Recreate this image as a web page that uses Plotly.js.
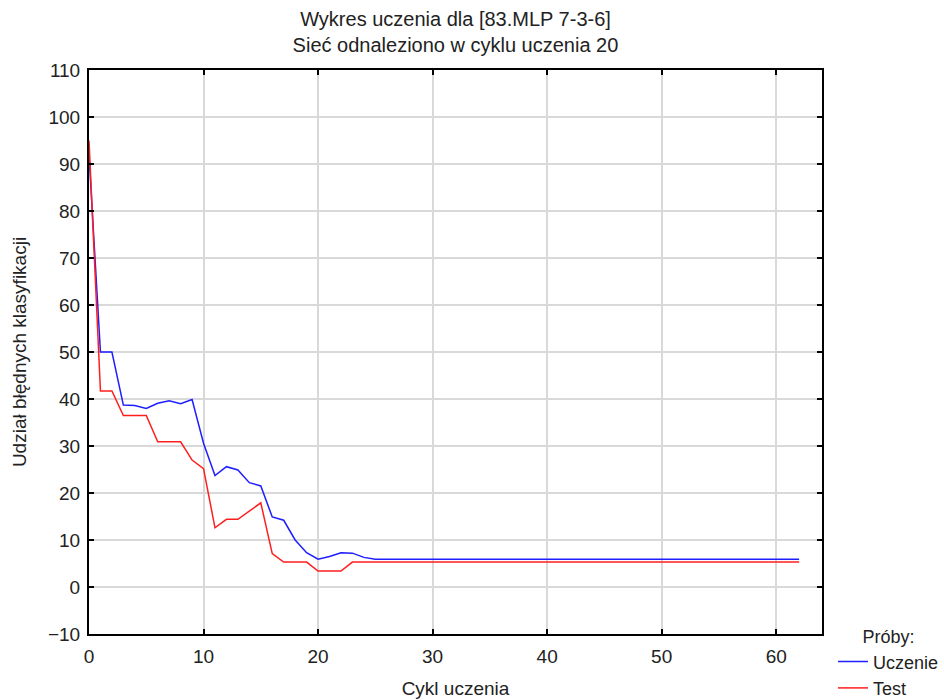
<!DOCTYPE html>
<html>
<head>
<meta charset="utf-8">
<script src="https://cdn.plot.ly/plotly-3.0.1.min.js"></script>
<style>html,body{margin:0;padding:0;background:#fff;}#chart{width:944px;height:700px;}</style>
</head>
<body>
<div id="chart"></div>
<script>
const cycles = [0,1,2,3,4,5,6,7,8,9,10,11,12,13,14,15,16,17,18,19,20,21,22,23,24,25,26,27,28,29,30,31,32,33,34,35,36,37,38,39,40,41,42,43,44,45,46,47,48,49,50,51,52,53,54,55,56,57,58,59,60,61,62];
const uczenie = [92,50,50,38.7,38.6,38.0,39.1,39.6,39.0,39.9,30.6,23.7,25.6,24.9,22.2,21.5,14.9,14.2,10.0,7.3,5.9,6.5,7.3,7.2,6.3,5.9,5.9,5.9,5.9,5.9,5.9,5.9,5.9,5.9,5.9,5.9,5.9,5.9,5.9,5.9,5.9,5.9,5.9,5.9,5.9,5.9,5.9,5.9,5.9,5.9,5.9,5.9,5.9,5.9,5.9,5.9,5.9,5.9,5.9,5.9,5.9,5.9,5.9];
const test = [95,41.7,41.7,36.5,36.5,36.5,30.9,30.9,30.9,27.0,25.2,12.6,14.4,14.4,16.1,17.9,7.1,5.3,5.3,5.3,3.4,3.4,3.4,5.3,5.3,5.3,5.3,5.3,5.3,5.3,5.3,5.3,5.3,5.3,5.3,5.3,5.3,5.3,5.3,5.3,5.3,5.3,5.3,5.3,5.3,5.3,5.3,5.3,5.3,5.3,5.3,5.3,5.3,5.3,5.3,5.3,5.3,5.3,5.3,5.3,5.3,5.3,5.3];
const xTicks = [0,10,20,30,40,50,60];
const yTicks = [-10,0,10,20,30,40,50,60,70,80,90,100,110];

const fontFam = 'Liberation Sans, Arial, sans-serif';
const traces = [
  {x: cycles, y: uczenie, name: 'Uczenie', type: 'scatter', mode: 'lines', line: {color: 'rgb(30,30,255)', width: 1.5}},
  {x: cycles, y: test, name: 'Test', type: 'scatter', mode: 'lines', line: {color: 'rgb(255,30,30)', width: 1.5}}
];
const axisCommon = {
  showline: true, linecolor: '#000', linewidth: 2, mirror: 'ticks',
  ticks: 'inside', ticklen: 5, tickwidth: 1.5, tickcolor: '#000',
  showgrid: true, gridcolor: '#d9d9d9', gridwidth: 1.5, zeroline: false,
  tickfont: {family: fontFam, size: 19, color: '#222'}
};
const layout = {
  width: 944, height: 700,
  margin: {l: 89, r: 122, t: 70, b: 66, autoexpand: false},
  paper_bgcolor: '#fff', plot_bgcolor: '#fff',
  font: {family: fontFam, color: '#222'},
  title: {text: 'Wykres uczenia dla [83.MLP 7-3-6]<br>Sieć odnaleziono w cyklu uczenia 20', x: 0.5, xref: 'paper', xanchor: 'center', yref: 'container', y: 0.963, yanchor: 'top', automargin: false, font: {family: fontFam, size: 20, color: '#222'}},
  xaxis: Object.assign({}, axisCommon, {range: [0, 64], tickvals: xTicks, ticklabelstandoff: 4,
    title: {text: 'Cykl uczenia', font: {family: fontFam, size: 19, color: '#222'}, standoff: 16}}),
  yaxis: Object.assign({}, axisCommon, {range: [-10, 110], tickvals: yTicks, ticklabelstandoff: 3,
    title: {text: 'Udział błędnych klasyfikacji', font: {family: fontFam, size: 19, color: '#222'}, standoff: 16}}),
  showlegend: true,
  legend: {x: 1.015, xanchor: 'left', y: 0.025, yanchor: 'top', bgcolor: 'rgba(0,0,0,0)',
    font: {family: fontFam, size: 18, color: '#222'}, tracegroupgap: 0, itemwidth: 30,
    title: {text: 'Próby:', side: 'top center', font: {family: fontFam, size: 18, color: '#222'}}}
};
Plotly.newPlot('chart', traces, layout, {displayModeBar: false});
</script>
</body>
</html>
